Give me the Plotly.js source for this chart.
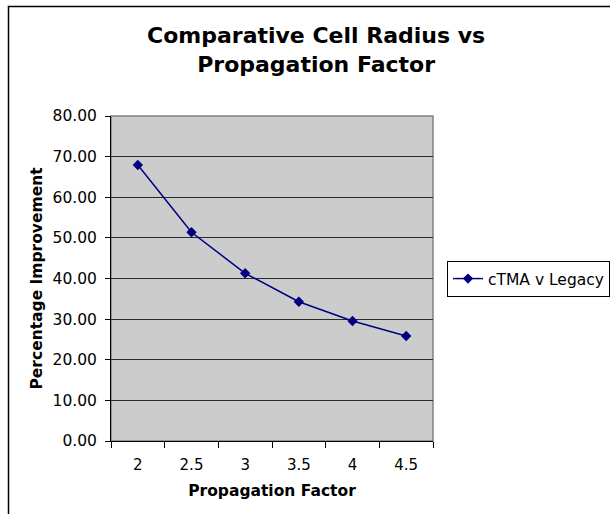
<!DOCTYPE html>
<html>
<head>
<meta charset="utf-8">
<script src="https://cdn.plot.ly/plotly-3.0.1.min.js"></script>
<style>
html,body{margin:0;padding:0;background:#fff;}
#chart{width:610px;height:514px;}
</style>
</head>
<body>
<div id="chart"></div>
<script>
var categories = ["2", "2.5", "3", "3.5", "4", "4.5"];
var cTMAvLegacy = [67.94, 51.37, 41.28, 34.29, 29.54, 25.85];
var seriesName = "cTMA v Legacy";
var yTicks = [0, 10, 20, 30, 40, 50, 60, 70, 80];
var chartTitle = "<b>Comparative Cell Radius vs<br>Propagation Factor</b>";

var FONT = "DejaVu Sans, Verdana, sans-serif";

var trace = {
  x: categories,
  y: cTMAvLegacy,
  type: "scatter",
  mode: "lines+markers",
  name: seriesName,
  line: {color: "#000080", width: 1.5},
  marker: {symbol: "diamond", size: 8, color: "#000080"}
};

var layout = {
  width: 610,
  height: 514,
  margin: {l: 111, r: 177, t: 116, b: 73, autoexpand: false},
  paper_bgcolor: "#ffffff",
  plot_bgcolor: "#cccccc",
  font: {family: FONT, size: 16, color: "#000"},
  showlegend: true,
  xaxis: {
    type: "category",
    range: [-0.5, 5.5],
    tickson: "boundaries",
    ticks: "outside",
    ticklen: 6,
    tickcolor: "#000",
    showline: true,
    linecolor: "#000",
    linewidth: 1,
    showgrid: false,
    zeroline: false,
    ticklabelstandoff: 10,
    tickfont: {family: FONT, size: 15},
    title: {text: "<b>Propagation Factor</b>", font: {family: FONT, size: 15.5}, standoff: 12}
  },
  yaxis: {
    range: [0, 80],
    tickvals: yTicks,
    tickformat: ".2f",
    ticks: "outside",
    ticklen: 5,
    tickcolor: "#000",
    showline: true,
    linecolor: "#000",
    linewidth: 1,
    showgrid: true,
    gridcolor: "#2a2a2a",
    gridwidth: 1,
    zeroline: false,
    ticklabelstandoff: 5,
    tickfont: {family: FONT, size: 15.5},
    title: {text: "<b>Percentage Improvement</b>", font: {family: FONT, size: 15.5}, standoff: 6}
  },
  legend: {
    xref: "container",
    x: 447/610, xanchor: "left",
    y: (441-279)/325, yanchor: "middle",
    bordercolor: "#000", borderwidth: 1,
    bgcolor: "#fff",
    font: {family: FONT, size: 15.5},
    itemwidth: 30,
    tracegroupgap: 0
  },
  annotations: [
    {text: chartTitle, xref: "paper", yref: "paper",
     x: (316-111)/322, xanchor: "center",
     y: (441-50)/325, yanchor: "middle",
     showarrow: false,
     font: {family: FONT, size: 22, color: "#000"}}
  ],
  shapes: [
    {type: "rect", xref: "paper", yref: "paper", x0: 0, x1: 1, y0: 0, y1: 1,
     line: {color: "#808080", width: 1.5}, layer: "below"},
    {type: "rect", xref: "paper", yref: "paper",
     x0: (8.5-111)/322, x1: (700-111)/322, y0: (441-600)/325, y1: (441-6.5)/325,
     line: {color: "#000", width: 1.5}, layer: "below"}
  ]
};

Plotly.newPlot("chart", [trace], layout, {displayModeBar: false, staticPlot: true});
</script>
</body>
</html>
